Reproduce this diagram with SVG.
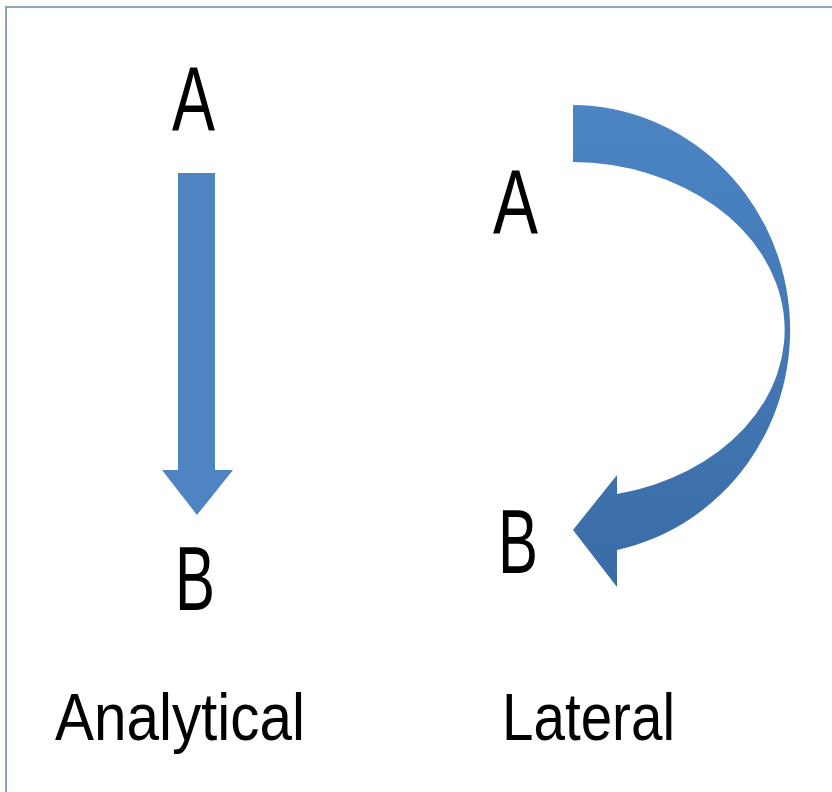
<svg xmlns="http://www.w3.org/2000/svg" width="832" height="792" viewBox="0 0 832 792">
<defs>
<style>
.lbl{font-family:"Liberation Sans","DejaVu Sans",sans-serif;fill:#000;}
.big{font-size:91px;}
.cap{font-size:67px;}
.arrow{stroke:none;}
</style>
<linearGradient id="g1" x1="0" y1="0" x2="0" y2="1">
<stop offset="0" stop-color="#4c84c4"/>
<stop offset="1" stop-color="#3a6ca6"/>
</linearGradient>
</defs>
<rect width="832" height="792" fill="#fff"/>
<g id="frame" stroke="#8fa4bc" stroke-width="2" fill="none">
<line x1="5" y1="7" x2="832" y2="7"/>
<line x1="6" y1="6" x2="6" y2="792"/>
</g>
<g id="connectors">
<path id="analytical-arrow" class="arrow" fill="#4f84c2" d="M178,173 H215 V470 H233 L197,515 L162,470 H178 Z"/>
<path id="lateral-arrow" class="arrow" fill="url(#g1)" d="M573,105 A219,225 0 0 1 617,550 L617,587 L573,530 L617,475 L617,494 A214,168 0 0 0 573,162 Z"/>
</g>
<g id="node-analytical-A"><text class="lbl big" x="172" y="130" textLength="43" lengthAdjust="spacingAndGlyphs">A</text></g>
<g id="node-analytical-B"><text class="lbl big" x="175" y="610" textLength="40" lengthAdjust="spacingAndGlyphs">B</text></g>
<g id="node-lateral-A"><text class="lbl big" x="493" y="233" textLength="45" lengthAdjust="spacingAndGlyphs">A</text></g>
<g id="node-lateral-B"><text class="lbl big" x="498" y="573" textLength="40" lengthAdjust="spacingAndGlyphs">B</text></g>
<g id="caption-analytical"><text class="lbl cap" x="55" y="740" textLength="250" lengthAdjust="spacingAndGlyphs">Analytical</text></g>
<g id="caption-lateral"><text class="lbl cap" x="502" y="740" textLength="173" lengthAdjust="spacingAndGlyphs">Lateral</text></g>
</svg>
